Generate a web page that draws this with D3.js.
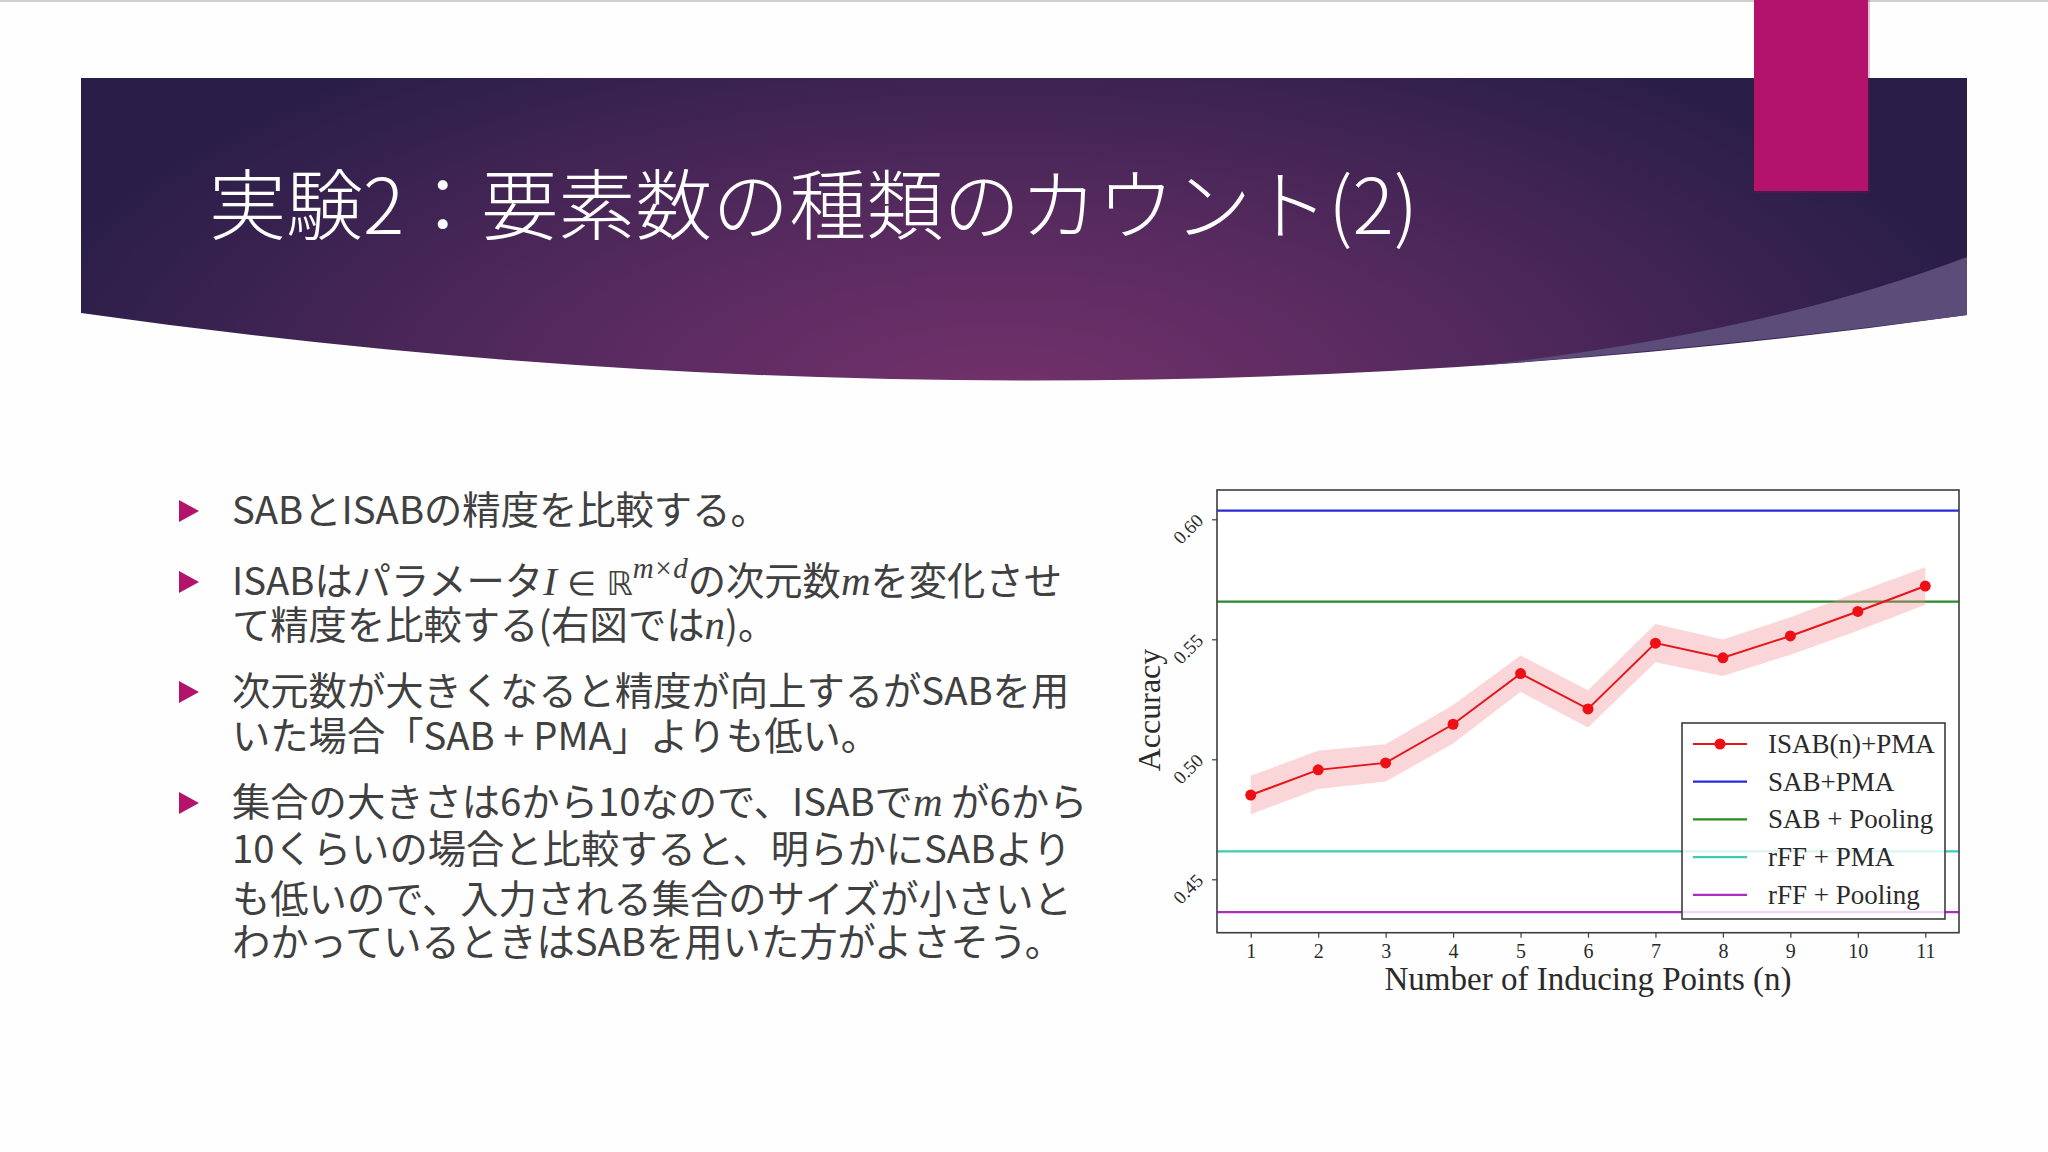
<!DOCTYPE html>
<html>
<head>
<meta charset="utf-8">
<script src="https://cdn.jsdelivr.net/npm/d3@7"></script>
<style>
  body { margin: 0; background: #fff; }
  svg { display: block; }
</style>
</head>
<body>
<svg width="2048" height="1152"></svg>
<script>
// chart data
const inducingPoints = [1, 2, 3, 4, 5, 6, 7, 8, 9, 10, 11];
const isabAccuracy = [0.4851, 0.4956, 0.4985, 0.5146, 0.5357, 0.5210, 0.5484, 0.5423, 0.5514, 0.5616, 0.5722];
const isabStd = [0.0080, 0.0080, 0.0078, 0.0080, 0.0076, 0.0078, 0.0080, 0.0076, 0.0078, 0.0080, 0.0078];
const baselineNames = ["SAB+PMA", "SAB + Pooling", "rFF + PMA", "rFF + Pooling"];
const baselineValues = [0.6036, 0.5657, 0.4616, 0.4363];
const baselineColors = ["#2a2ad8", "#2a8a2a", "#3fcab8", "#b02cc0"];
const yTicks = [0.45, 0.50, 0.55, 0.60];

const titleText = "実験2：要素数の種類のカウント(2)";

const svg = d3.select("svg");

// ---------- slide background ----------
const defs = svg.append("defs");
const grad = defs.append("radialGradient")
    .attr("id", "banner")
    .attr("gradientUnits", "userSpaceOnUse")
    .attr("cx", 1000).attr("cy", 400).attr("r", 1000)
    .attr("gradientTransform", "translate(1000,400) scale(1,0.42) translate(-1000,-400)");
grad.append("stop").attr("offset", "0").attr("stop-color", "#74316c");
grad.append("stop").attr("offset", "0.45").attr("stop-color", "#562a5e");
grad.append("stop").attr("offset", "1").attr("stop-color", "#2a1e48");

svg.append("rect").attr("width", 2048).attr("height", 1152).attr("fill", "#fefefe");
svg.append("rect").attr("width", 2048).attr("height", 2).attr("fill", "#cfcfcf");

svg.append("path")
    .attr("d", "M81,78 L1967,78 L1967,315 Q1024,447 81,313 Z")
    .attr("fill", "url(#banner)");
svg.append("path")
    .attr("d", "M1967,257 Q1760,335 1475,366 Q1740,345 1967,315 Z")
    .attr("fill", "#5c4c7a");

svg.append("rect")
    .attr("x", 1756).attr("y", 0).attr("width", 114).attr("height", 193)
    .attr("fill", "#8a1050").attr("opacity", 0.25);
svg.append("rect")
    .attr("x", 1754).attr("y", 0).attr("width", 114).attr("height", 191)
    .attr("fill", "#b3136a");

svg.append("text")
    .attr("x", 209).attr("y", 234)
    .attr("font-family", "Noto Sans CJK JP")
    .attr("font-weight", 300)
    .attr("font-size", 77)
    .attr("fill", "#ffffff")
    .text(titleText);

// ---------- bullet text ----------
const bodyFont = "Noto Sans CJK JP";
const mathFont = "Liberation Serif";
const lines = [
    { y: 524, bullet: true, parts: [["SABとISABの精度を比較する。"]] },
    { y: 595, bullet: true, parts: [["ISABはパラメータ"], ["I", "it"], [" ∈ ", "m"], ["ℝ", "m"], ["m×d", "sup"], ["の次元数"], ["m", "it"], ["を変化させ"]] },
    { y: 639, parts: [["て精度を比較する(右図では"], ["n", "it"], [")。"]] },
    { y: 705, bullet: true, parts: [["次元数が大きくなると精度が向上するがSABを用"]] },
    { y: 750, parts: [["いた場合「SAB + PMA」よりも低い。"]] },
    { y: 816, bullet: true, parts: [["集合の大きさは6から10なので、ISABで"], ["m", "it"], [" が6から"]] },
    { y: 863, parts: [["10くらいの場合と比較すると、明らかにSABより"]] },
    { y: 913, parts: [["も低いので、入力される集合のサイズが小さいと"]] },
    { y: 956, parts: [["わかっているときはSABを用いた方がよさそう。"]] }
];

lines.forEach(l => {
    if (l.bullet) {
        const cy = l.y - 13;
        svg.append("path")
            .attr("d", `M179,${cy - 11} L199,${cy} L179,${cy + 11} Z`)
            .attr("fill", "#b3136a");
    }
    const t = svg.append("text")
        .attr("x", 232).attr("y", l.y)
        .attr("font-family", bodyFont)
        .attr("font-size", 38.3)
        .attr("fill", "#404040");
    l.parts.forEach(p => {
        const s = t.append("tspan").text(p[0]);
        if (p[1] === "it") s.attr("font-family", mathFont).attr("font-style", "italic").attr("font-size", 41);
        if (p[1] === "m") s.attr("font-family", "DejaVu Sans").attr("font-size", 33);
        if (p[1] === "sup") s.attr("font-family", mathFont).attr("font-style", "italic")
            .attr("font-size", 29).attr("baseline-shift", "60%");
    });
});

// ---------- chart ----------
const x = d3.scaleLinear().domain([0.5, 11.5]).range([1217, 1959]);
const y = d3.scaleLinear().domain([0.42775, 0.61221]).range([932.7, 490]);

const plot = svg.append("g");

plot.append("rect")
    .attr("x", 1217).attr("y", 490)
    .attr("width", 742).attr("height", 442.7)
    .attr("fill", "#ffffff");

// baselines
plot.selectAll(".base")
    .data(baselineValues)
    .enter()
    .append("line")
    .attr("class", "base")
    .attr("x1", x(0.5)).attr("x2", x(11.5))
    .attr("y1", d => y(d)).attr("y2", d => y(d))
    .attr("stroke", (d, i) => baselineColors[i])
    .attr("stroke-width", 2.2);

// ISAB band, line, points
const series = inducingPoints.map((n, i) => ({ n, v: isabAccuracy[i], s: isabStd[i] }));

plot.append("path")
    .datum(series)
    .attr("fill", "#f08a8e")
    .attr("opacity", 0.35)
    .attr("d", d3.area().x(d => x(d.n)).y0(d => y(d.v - d.s)).y1(d => y(d.v + d.s)));

plot.append("path")
    .datum(series)
    .attr("fill", "none")
    .attr("stroke", "#e4161c")
    .attr("stroke-width", 2)
    .attr("d", d3.line().x(d => x(d.n)).y(d => y(d.v)));

plot.selectAll(".pt")
    .data(series)
    .enter()
    .append("circle")
    .attr("class", "pt")
    .attr("cx", d => x(d.n))
    .attr("cy", d => y(d.v))
    .attr("r", 5.5)
    .attr("fill", "#ee1016");

// frame
plot.append("rect")
    .attr("x", 1217).attr("y", 490)
    .attr("width", 742).attr("height", 442.7)
    .attr("fill", "none")
    .attr("stroke", "#3c3c3c")
    .attr("stroke-width", 1.6);

// axes
const xAxis = plot.append("g")
    .attr("transform", `translate(0,${y.range()[0]})`)
    .call(d3.axisBottom(x).tickValues(inducingPoints).tickSize(5).tickPadding(6));
xAxis.select(".domain").remove();
xAxis.selectAll("line").attr("stroke", "#3c3c3c").attr("stroke-width", 1.2);
xAxis.selectAll("text")
    .attr("font-family", mathFont)
    .attr("font-size", 20)
    .attr("fill", "#2a2a2a");

const yAxis = plot.append("g")
    .attr("transform", `translate(${x.range()[0]},0)`)
    .call(d3.axisLeft(y).tickValues(yTicks).tickFormat(d3.format(".2f")).tickSize(5));
yAxis.select(".domain").remove();
yAxis.selectAll("line").attr("stroke", "#3c3c3c").attr("stroke-width", 1.2);
yAxis.selectAll("text")
    .attr("x", 0)
    .attr("dy", "0.35em")
    .attr("text-anchor", "middle")
    .attr("transform", "translate(-29,9) rotate(-45)")
    .attr("font-family", mathFont)
    .attr("font-size", 19)
    .attr("fill", "#2a2a2a");

// axis labels
svg.append("text")
    .attr("transform", "translate(1149,710) rotate(-90)")
    .attr("text-anchor", "middle")
    .attr("dominant-baseline", "central")
    .attr("font-family", mathFont)
    .attr("font-size", 32)
    .attr("fill", "#2a2a2a")
    .text("Accuracy");

svg.append("text")
    .attr("x", 1588).attr("y", 990)
    .attr("text-anchor", "middle")
    .attr("font-family", mathFont)
    .attr("font-size", 33)
    .attr("fill", "#2a2a2a")
    .text("Number of Inducing Points (n)");

// legend
const legendNames = ["ISAB(n)+PMA"].concat(baselineNames);
const legendColors = ["#e4161c"].concat(baselineColors);
const legend = svg.append("g");
legend.append("rect")
    .attr("x", 1682).attr("y", 723)
    .attr("width", 263).attr("height", 196)
    .attr("fill", "#ffffff").attr("fill-opacity", 0.8)
    .attr("stroke", "#3c3c3c").attr("stroke-width", 1.6);

const rows = legend.selectAll(".row")
    .data(legendNames)
    .enter()
    .append("g")
    .attr("class", "row")
    .attr("transform", (d, i) => `translate(0,${744 + i * 37.7})`);
rows.append("line")
    .attr("x1", 1693).attr("x2", 1747)
    .attr("stroke", (d, i) => legendColors[i])
    .attr("stroke-width", 2.2);
rows.filter((d, i) => i === 0)
    .append("circle")
    .attr("cx", 1720).attr("r", 5.5)
    .attr("fill", "#ee1016");
rows.append("text")
    .attr("x", 1768)
    .attr("dominant-baseline", "central")
    .attr("font-family", mathFont)
    .attr("font-size", 27)
    .attr("fill", "#2a2a2a")
    .text(d => d);
</script>
</body>
</html>
